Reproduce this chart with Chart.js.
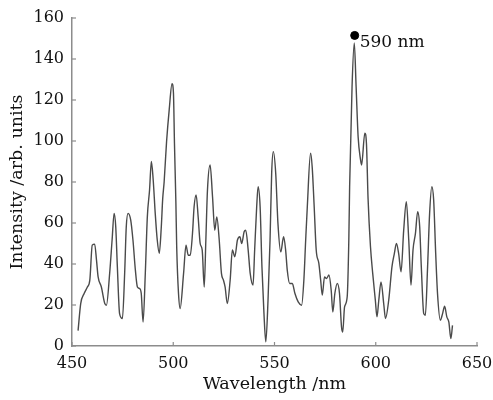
<!DOCTYPE html>
<html>
<head>
<meta charset="utf-8">
<script src="https://cdn.jsdelivr.net/npm/chart.js@4/dist/chart.umd.min.js"></script>
<style>
  html, body { margin: 0; padding: 0; background: #fff; }
</style>
</head>
<body>
<canvas id="spectrumChart" width="493" height="400"></canvas>
<script>
// Wavelength (nm) and intensity (arb. units)
const wavelengths = [
  453.0, 454.3, 456.0, 457.6, 458.8, 460.0, 461.2, 462.1, 462.9, 464.5,
  466.2, 467.0, 468.6, 469.8, 470.8, 471.6, 472.4, 473.5, 474.9, 476.0,
  476.8, 477.7, 479.0, 480.1, 481.3, 482.3, 483.4, 484.2, 485.1, 486.2,
  487.2, 488.3, 489.2, 490.1, 491.1, 492.1, 493.1, 494.1, 494.8, 495.5,
  496.7, 498.0, 499.4, 500.1, 500.6, 501.3, 501.7, 502.6, 503.4, 505.1,
  506.3, 507.4, 508.4, 509.5, 510.3, 511.3, 512.3, 513.3, 514.3, 515.3,
  516.1, 516.9, 518.2, 519.4, 520.5, 521.5, 522.7, 523.8, 524.8, 525.6,
  526.7, 528.1, 529.2, 530.4, 531.7, 532.9, 533.8, 535.0, 535.8, 537.0,
  538.0, 539.4, 540.2, 541.2, 541.9, 542.9, 543.8, 544.8, 545.7, 546.8,
  547.8, 548.6, 549.4, 550.6, 551.7, 553.1, 554.5, 555.5, 556.3, 557.5,
  558.8, 560.1, 561.7, 563.4, 564.5, 565.4, 566.2, 567.8, 568.6, 569.6,
  570.6, 571.9, 572.8, 573.6, 574.7, 575.7, 576.9, 578.0, 578.8, 579.8,
  581.0, 582.1, 583.1, 583.7, 584.6, 585.9, 586.7, 587.1, 588.3, 589.4,
  590.3, 591.3, 592.5, 593.0, 594.6, 595.4, 596.2, 597.4, 598.5, 599.8,
  600.6, 601.5, 602.6, 604.0, 604.8, 606.4, 608.0, 609.2, 610.2, 611.3,
  612.5, 613.8, 615.1, 616.3, 617.4, 618.4, 619.6, 620.7, 621.7, 622.5,
  623.7, 624.5, 625.6, 626.6, 627.7, 628.6, 629.6, 630.5, 631.9, 633.0,
  634.0, 635.1, 636.1, 637.1, 637.9
];
const intensity = [
  7.5, 20.7, 25.6, 28.8, 32.1, 49.2, 49.7, 41.9, 33.7, 28.8,
  20.7, 19.9, 35.4, 51.7, 64.7, 58.2, 38.6, 15.8, 13.4, 35.4,
  58.2, 64.7, 61.4, 51.7, 37.0, 28.8, 28.0, 25.6, 11.7, 35.4,
  63.0, 76.1, 90.0, 81.0, 64.7, 51.7, 45.2, 58.2, 72.0, 80.0,
  99.7, 115.2, 127.9, 123.4, 98.9, 70.0, 48.4, 25.6, 18.3, 35.4,
  49.2, 44.3, 44.3, 54.9, 67.9, 73.7, 63.0, 50.0, 46.8, 28.8,
  51.7, 76.1, 88.3, 72.8, 56.5, 63.0, 51.7, 35.4, 32.1, 28.8,
  20.7, 32.1, 46.8, 43.5, 51.7, 53.3, 50.0, 55.7, 56.5, 46.8,
  35.4, 29.7, 46.8, 67.9, 77.7, 67.9, 38.6, 15.8, 2.0, 22.3,
  51.7, 84.3, 94.8, 84.3, 59.8, 45.9, 53.3, 46.8, 37.0, 30.5,
  30.5, 25.6, 21.5, 19.9, 32.1, 51.7, 67.9, 94.0, 87.5, 67.9,
  46.8, 40.3, 32.1, 24.8, 33.7, 32.9, 34.6, 27.2, 16.6, 25.6,
  30.5, 25.6, 9.3, 6.8, 19.1, 24.0, 51.7, 77.7, 126.6, 147.8,
  126.6, 102.0, 90.8, 88.3, 103.8, 98.9, 72.0, 48.4, 35.4, 22.3,
  14.2, 22.3, 31.3, 20.0, 13.4, 22.3, 38.6, 45.2, 50.0, 45.2,
  36.2, 56.5, 70.4, 51.7, 29.7, 46.8, 54.9, 65.5, 58.2, 38.6,
  15.8, 15.0, 38.6, 64.7, 77.7, 71.2, 45.2, 25.6, 12.6, 15.8,
  19.4, 14.2, 11.7, 3.6, 10.1
];

// Marked line
const markWavelength = [589.6];
const markIntensity = [151.5];
const markLabels = ["590 nm"];

const xTicks = [450, 500, 550, 600, 650];
const yTicks = [0, 20, 40, 60, 80, 100, 120, 140, 160];

const serif = "'DejaVu Serif', 'Liberation Serif', serif";
const axisColor = "#8c8c8c";
const textColor = "#111";

// Short tick marks pointing into the plot area
const inwardTicks = {
    id: "inwardTicks",
    afterDraw(chart) {
        const ctx = chart.ctx;
        const xs = chart.scales.x, ys = chart.scales.y;
        ctx.save();
        ctx.strokeStyle = axisColor;
        ctx.lineWidth = 1.2;
        xTicks.forEach(v => {
            const px = xs.getPixelForValue(v);
            ctx.beginPath();
            ctx.moveTo(px, ys.bottom);
            ctx.lineTo(px, ys.bottom - 4);
            ctx.stroke();
        });
        yTicks.forEach(v => {
            const py = ys.getPixelForValue(v);
            ctx.beginPath();
            ctx.moveTo(xs.left, py);
            ctx.lineTo(xs.left + 4, py);
            ctx.stroke();
        });
        ctx.restore();
    }
};

// Text beside the marked point
const markText = {
    id: "markText",
    afterDatasetsDraw(chart) {
        const ctx = chart.ctx;
        const meta = chart.getDatasetMeta(1);
        ctx.save();
        ctx.fillStyle = textColor;
        ctx.font = "17px " + serif;
        ctx.textAlign = "left";
        ctx.textBaseline = "middle";
        meta.data.forEach((pt, i) => {
            ctx.fillText(markLabels[i], pt.x + 5, pt.y + 7);
        });
        ctx.restore();
    }
};

let ctx = document.getElementById("spectrumChart").getContext("2d");
let spectrumChart = new Chart(ctx, {
    type: "line",
    data: {
        datasets: [{
            data: wavelengths.map((w, i) => ({ x: w, y: intensity[i] })),
            borderColor: "#4a4a4a",
            borderWidth: 1.4,
            pointRadius: 0,
            tension: 0.4,
            cubicInterpolationMode: "monotone",
            fill: false
        }, {
            type: "scatter",
            data: markWavelength.map((w, i) => ({ x: w, y: markIntensity[i] })),
            pointRadius: 4,
            pointBackgroundColor: "#000",
            pointBorderColor: "#000"
        }]
    },
    options: {
        responsive: false,
        animation: false,
        devicePixelRatio: 1,
        layout: { padding: { top: 18, right: 16, left: 0, bottom: 0 } },
        plugins: {
            legend: { display: false },
            tooltip: { enabled: false }
        },
        scales: {
            x: {
                type: "linear",
                min: 450,
                max: 650,
                afterBuildTicks: s => { s.ticks = xTicks.map(v => ({ value: v })); },
                afterFit: s => { s.height = 54; s.paddingLeft = 0; s.paddingRight = 0; },
                grid: { drawOnChartArea: false, drawTicks: false },
                border: { color: axisColor, width: 1.5 },
                ticks: { color: textColor, padding: 8, font: { family: serif, size: 16 } },
                title: {
                    display: true,
                    text: "Wavelength /nm",
                    color: textColor,
                    font: { family: serif, size: 17.5 },
                    padding: { top: 0, bottom: 5 }
                }
            },
            y: {
                min: 0,
                max: 160,
                afterBuildTicks: s => { s.ticks = yTicks.map(v => ({ value: v })); },
                afterFit: s => { s.width = 72; s.paddingTop = 0; s.paddingBottom = 0; },
                grid: { drawOnChartArea: false, drawTicks: false },
                border: { color: axisColor, width: 1.5 },
                ticks: { color: textColor, padding: 8, font: { family: serif, size: 16 } },
                title: {
                    display: true,
                    text: "Intensity /arb. units",
                    color: textColor,
                    font: { family: serif, size: 17.5 },
                    padding: { top: 7, bottom: 0 }
                }
            }
        }
    },
    plugins: [inwardTicks, markText]
});
</script>
</body>
</html>
